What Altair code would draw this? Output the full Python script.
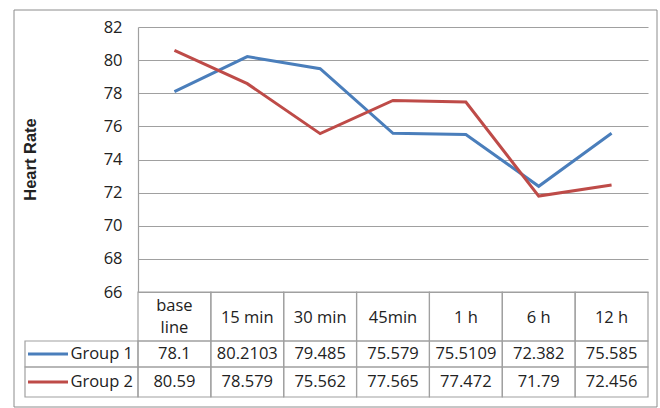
import altair as alt
import pandas as pd

categories = ["base line", "15 min", "30 min", "45min", "1 h", "6 h", "12 h"]
header_labels = ["base\nline", "15 min", "30 min", "45min", "1 h", "6 h", "12 h"]
series_names = ["Group 1", "Group 2"]
series_colors = ["#4A7EBB", "#BE4B48"]
group1 = [78.1, 80.2103, 79.485, 75.579, 75.5109, 72.382, 75.585]
group2 = [80.59, 78.579, 75.562, 77.565, 77.472, 71.79, 72.456]
group1_text = ["78.1", "80.2103", "79.485", "75.579", "75.5109", "72.382", "75.585"]
group2_text = ["80.59", "78.579", "75.562", "77.565", "77.472", "71.79", "72.456"]
y_ticks = [66, 68, 70, 72, 74, 76, 78, 80, 82]

FONT = "Open Sans"
FS = 16.5
GRID = "#a0a0a0"
TXT = "#222222"

rows = []
for s, vals, txts in [("Group 1", group1, group1_text), ("Group 2", group2, group2_text)]:
    for i, (c, v, t) in enumerate(zip(categories, vals, txts)):
        rows.append({"cat": c, "idx": i, "series": s, "value": v, "label": t})
df = pd.DataFrame(rows)
hdr = pd.DataFrame({"cat": categories, "hdr": header_labels,
                    "multi": ["\n" in h for h in header_labels]})
one = pd.DataFrame({"k": [0]})

xscale = alt.Scale(type="band", domain=categories, paddingInner=0, paddingOuter=0)
X = alt.X("cat:N", scale=xscale, axis=None, bandPosition=0.5)
Xr = alt.X("cat:N", scale=xscale, axis=None)
color = alt.Color("series:N", scale=alt.Scale(domain=series_names, range=series_colors), legend=None)

border = alt.Chart(one).mark_rect(fill="transparent", stroke="#8c8c8c", strokeWidth=1).encode(
    x=alt.value(-124), x2=alt.value(519), y=alt.value(-17), y2=alt.value(380)
)

lines = alt.Chart(df).mark_line(strokeWidth=3).encode(
    x=X,
    y=alt.Y("value:Q", scale=alt.Scale(domain=[66, 82], nice=False, zero=False),
            axis=alt.Axis(values=y_ticks, grid=True, gridColor=GRID, gridWidth=1.2,
                          domainColor=GRID, domainWidth=1.2, ticks=False,
                          labelFont=FONT, labelFontSize=FS, labelColor=TXT, labelPadding=16,
                          title="Heart Rate", titleFont="Liberation Sans", titleFontSize=16.5,
                          titleFontWeight="bold", titleColor=TXT, titleAngle=-90,
                          titleX=-108, titleY=132, titleAlign="center", titleBaseline="middle")),
    color=color,
    order=alt.Order("idx:Q"),
)

def cell_row(y0, y1):
    return alt.Chart(hdr).mark_rect(fill="transparent", stroke=GRID, strokeWidth=1.2).encode(
        x=Xr, y=alt.value(y0), y2=alt.value(y1)
    )

cells = [cell_row(265, 314), cell_row(314, 340), cell_row(340, 370)]

legend_cells = [
    alt.Chart(one).mark_rect(fill="transparent", stroke=GRID, strokeWidth=1.2).encode(
        x=alt.value(-113), x2=alt.value(0), y=alt.value(314), y2=alt.value(340)),
    alt.Chart(one).mark_rect(fill="transparent", stroke=GRID, strokeWidth=1.2).encode(
        x=alt.value(-113), x2=alt.value(0), y=alt.value(340), y2=alt.value(370)),
]

header_single = alt.Chart(hdr).transform_filter("!datum.multi").mark_text(
    font=FONT, fontSize=FS, color=TXT, baseline="middle").encode(
    x=X, y=alt.value(291), text="hdr:N"
)
header_multi = alt.Chart(hdr).transform_filter("datum.multi").mark_text(
    font=FONT, fontSize=FS, color=TXT, lineBreak="\n", lineHeight=22, baseline="middle").encode(
    x=X, y=alt.value(279), text="hdr:N"
)

row_layers = []
for s, yc in [("Group 1", 327), ("Group 2", 355)]:
    base = alt.Chart(df).transform_filter(alt.datum.series == s)
    row_layers.append(base.mark_text(font=FONT, fontSize=FS, color=TXT, baseline="middle").encode(
        x=X, y=alt.value(yc), text="label:N"))
    leg = alt.Chart(pd.DataFrame({"series": [s]}))
    row_layers.append(leg.mark_rule(strokeWidth=3).encode(
        x=alt.value(-110), x2=alt.value(-70), y=alt.value(yc), color=color))
    row_layers.append(leg.mark_text(font=FONT, fontSize=FS, color=TXT, align="right",
                                    baseline="middle").encode(
        x=alt.value(-5), y=alt.value(yc), text="series:N"))

chart = alt.layer(border, *cells, *legend_cells, lines, header_single, header_multi,
                  *row_layers).properties(
    width=510, height=265,
    autosize=alt.AutoSizeParams(type="none"),
    padding={"left": 138, "top": 27, "right": 12, "bottom": 116},
    background="white",
).configure_view(stroke=None)

chart.save("out.html", embed_options={"renderer": "svg", "actions": False})
